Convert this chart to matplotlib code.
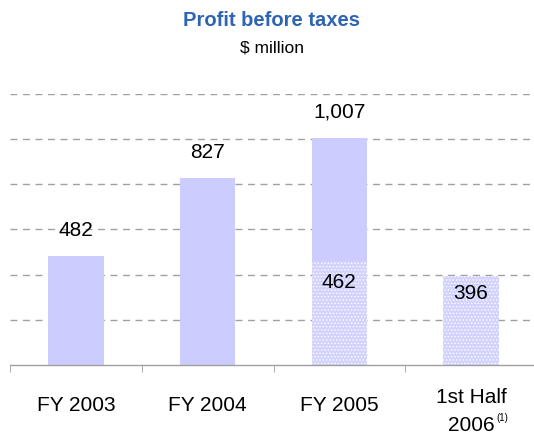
import matplotlib
matplotlib.use("Agg")
import matplotlib.pyplot as plt
import matplotlib.transforms as mtransforms
import numpy as np

plt.rcParams["font.family"] = ["Liberation Sans", "DejaVu Sans"]
plt.rcParams["hatch.color"] = "white"
plt.rcParams["hatch.linewidth"] = 0.6

# data
categories = ["FY 2003", "FY 2004", "FY 2005", "1st Half\n2006"]
footnotes = ["", "", "", "(1)"]
full_year = [482, 827, 1007, 0]      # full-year profit (0 = no full-year bar)
first_half = [0, 0, 462, 396]        # first-half part, drawn dotted
top_labels = ["482", "827", "1,007", ""]
inner_labels = ["", "", "462", "396"]

bar_color = "#CCCCFF"
grid_color = "#A0A0A0"

fig = plt.figure(figsize=(5.34, 4.36), dpi=100)
ax = fig.add_axes([10 / 534, 71 / 436, 527 / 534, 271 / 436])

x = np.arange(len(categories))
w = 0.42
full = np.array(full_year)
half = np.array(first_half)

# solid part (second half of the year on top of the first half)
solid = np.where(full > 0, full - half, 0)
ax.bar(x, solid, w, bottom=half, color=bar_color, linewidth=0, zorder=2)
# dotted part
ax.bar(x, half, w, color="#D2D2FF", edgecolor="white", linewidth=0,
       hatch=".....", zorder=2)

for i in range(len(x)):
    if top_labels[i]:
        ax.annotate(top_labels[i], (x[i], full[i]), xytext=(0, 26),
                    textcoords="offset pixels", ha="center", va="center",
                    fontsize=15, zorder=3)
    if inner_labels[i]:
        off = -22 if i == 2 else -18
        ax.annotate(inner_labels[i], (x[i], half[i]), xytext=(0, off),
                    textcoords="offset pixels", ha="center", va="center",
                    fontsize=15, zorder=3)

ax.set_xlim(-0.5, len(x) - 0.5)
ax.set_ylim(0, 1200)

for v in range(200, 1201, 200):
    ax.axhline(v, color=grid_color, lw=1, dashes=(5, 4), zorder=1)

for s in ["top", "right", "left"]:
    ax.spines[s].set_visible(False)
ax.spines["bottom"].set_color(grid_color)
ax.spines["bottom"].set_linewidth(1)

ax.set_yticks([])
ax.set_xticks([])
ax.set_xticks(np.arange(-0.5, len(x) - 0.4, 1), minor=True)
ax.tick_params(axis="x", which="minor", length=5, color=grid_color,
               direction="out", labelbottom=False)

# category labels, one text per line
trans = mtransforms.blended_transform_factory(ax.transData, fig.transFigure)
for i, lab in enumerate(categories):
    lines = lab.split("\n")
    ys = [405] if len(lines) == 1 else [397, 425]
    for line, ypx in zip(lines, ys):
        ax.text(x[i], 1 - ypx / 436, line, transform=trans, ha="center",
                va="center", fontsize=15)
    if footnotes[i]:
        ax.annotate(footnotes[i], (x[i], 1 - 418 / 436), xycoords=trans,
                    xytext=(25, 0), textcoords="offset pixels",
                    ha="left", va="center", fontsize=7)

fig.text(0.508, 0.954, "Profit before taxes", ha="center", va="center",
         fontsize=14.5, fontweight="bold", color="#2E64B4")
fig.text(0.51, 0.89, "$ million", ha="center", va="center", fontsize=12.5)

fig.savefig("out.png", dpi=100)
